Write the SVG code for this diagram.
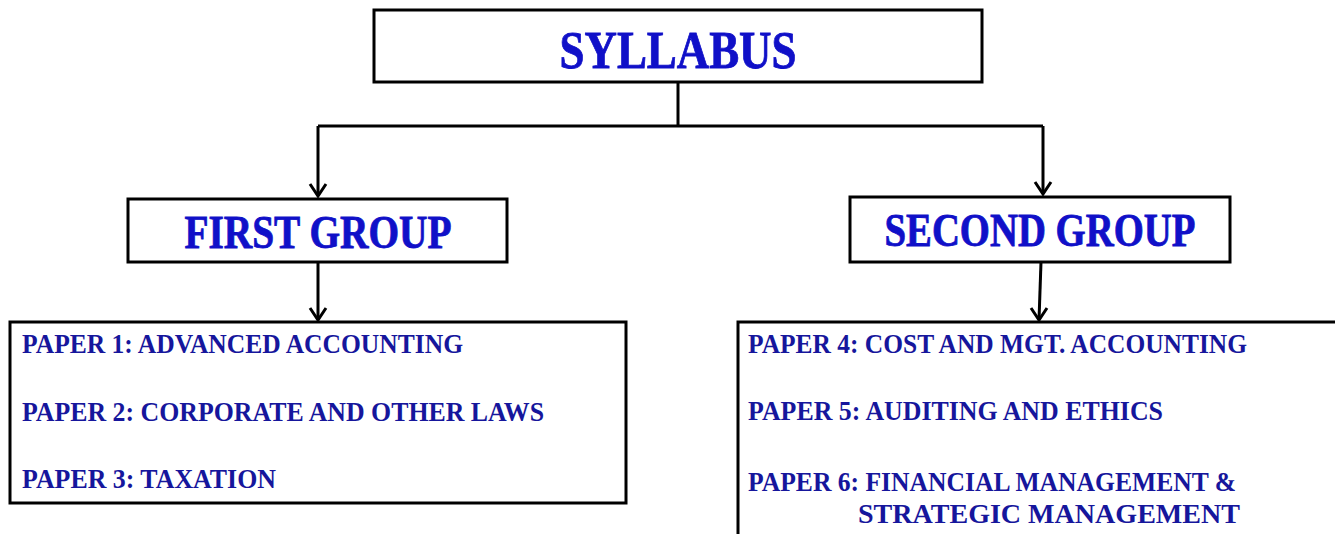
<svg xmlns="http://www.w3.org/2000/svg" width="1335" height="534" viewBox="0 0 1335 534">
<style>
.box{fill:#fff;stroke:#000;stroke-width:3}
.t{font-family:"Liberation Serif","Times New Roman",serif;font-weight:bold}
.title{fill:#1010c8;stroke:#1010c8;stroke-width:0.8}
.item{fill:#16169c;font-size:28px}
.con{stroke:#000;stroke-width:3;fill:none}
.head{stroke:#000;stroke-width:3;fill:none;stroke-linejoin:miter}
</style>
<rect width="1335" height="534" fill="#fff"/>
<g id="connectors">
<path class="con" d="M678,82 V126"/>
<path class="con" d="M318,126 H1043"/>
<path class="con" d="M318,126 V196"/>
<path class="head" d="M310,184 L318,196 L326,184"/>
<path class="con" d="M1043,126 V194"/>
<path class="head" d="M1035,182 L1043,194 L1051,182"/>
<path class="con" d="M318,262 V320"/>
<path class="head" d="M310,308 L318,320 L326,308"/>
<path class="con" d="M1041,262 L1039,320"/>
<path class="head" d="M1031,308 L1039,320 L1047,308"/>
</g>
<g id="syllabus">
<rect class="box" x="374" y="10" width="608" height="72"/>
<text class="t title" x="678" y="68" font-size="52" text-anchor="middle" textLength="237" lengthAdjust="spacingAndGlyphs">SYLLABUS</text>
</g>
<g id="first-group">
<rect class="box" x="128" y="199" width="379" height="63"/>
<text class="t title" x="318" y="248" font-size="46" text-anchor="middle" textLength="267" lengthAdjust="spacingAndGlyphs">FIRST GROUP</text>
</g>
<g id="second-group">
<rect class="box" x="850" y="197" width="380" height="65"/>
<text class="t title" x="1040" y="246" font-size="46" text-anchor="middle" textLength="311" lengthAdjust="spacingAndGlyphs">SECOND GROUP</text>
</g>
<g id="first-papers">
<rect class="box" x="10" y="322" width="616" height="181"/>
<text class="t item" x="22" y="353" textLength="441" lengthAdjust="spacingAndGlyphs">PAPER 1: ADVANCED ACCOUNTING</text>
<text class="t item" x="22" y="421" textLength="522" lengthAdjust="spacingAndGlyphs">PAPER 2: CORPORATE AND OTHER LAWS</text>
<text class="t item" x="22" y="488" textLength="254" lengthAdjust="spacingAndGlyphs">PAPER 3: TAXATION</text>
</g>
<g id="second-papers">
<rect class="box" x="738" y="322" width="600" height="220"/>
<text class="t item" x="748" y="353" textLength="499" lengthAdjust="spacingAndGlyphs">PAPER 4: COST AND MGT. ACCOUNTING</text>
<text class="t item" x="748" y="420" textLength="415" lengthAdjust="spacingAndGlyphs">PAPER 5: AUDITING AND ETHICS</text>
<text class="t item" x="748" y="491" textLength="488" lengthAdjust="spacingAndGlyphs">PAPER 6: FINANCIAL MANAGEMENT &amp;</text>
<text class="t item" x="858" y="523" textLength="382" lengthAdjust="spacingAndGlyphs">STRATEGIC MANAGEMENT</text>
</g>
</svg>
